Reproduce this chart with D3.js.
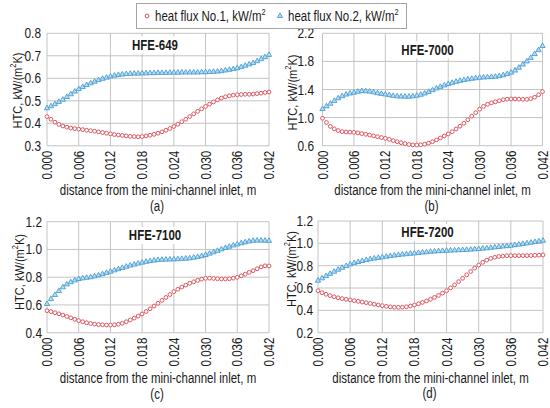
<!DOCTYPE html>
<html>
<head>
<meta charset="utf-8">
<script src="https://cdn.jsdelivr.net/npm/d3@7"></script>
<style>
  body { margin: 0; background: #fff; }
  svg { display: block; font-family: "Liberation Sans", Arial, sans-serif; }
</style>
</head>
<body>
<div id="chart"></div>
<script>
// distance from the mini-channel inlet, m
var distance = [0, 0.00075, 0.0015, 0.00225, 0.003, 0.00375, 0.0045, 0.00525, 0.006, 0.00675, 0.0075, 0.00825,
  0.009, 0.00975, 0.0105, 0.01125, 0.012, 0.01275, 0.0135, 0.01425, 0.015, 0.01575, 0.0165, 0.01725,
  0.018, 0.01875, 0.0195, 0.02025, 0.021, 0.02175, 0.0225, 0.02325, 0.024, 0.02475, 0.0255, 0.02625,
  0.027, 0.02775, 0.0285, 0.02925, 0.03, 0.03075, 0.0315, 0.03225, 0.033, 0.03375, 0.0345, 0.03525,
  0.036, 0.03675, 0.0375, 0.03825, 0.039, 0.03975, 0.0405, 0.04125, 0.042];

var xTicks = [0, 0.006, 0.012, 0.018, 0.024, 0.030, 0.036, 0.042];

// HTC, kW/(m2K)
var hfe649_q1 = [0.430, 0.418, 0.405, 0.395, 0.388, 0.383, 0.379, 0.376, 0.374, 0.372, 0.369, 0.367, 0.365,
  0.362, 0.359, 0.356, 0.353, 0.350, 0.348, 0.346, 0.344, 0.342, 0.341, 0.340, 0.341, 0.344, 0.347, 0.351,
  0.356, 0.362, 0.369, 0.377, 0.386, 0.396, 0.407, 0.418, 0.430, 0.442, 0.453, 0.464, 0.475, 0.485, 0.495,
  0.504, 0.512, 0.518, 0.522, 0.525, 0.527, 0.528, 0.529, 0.529, 0.530, 0.532, 0.534, 0.537, 0.539];
var hfe649_q2 = [0.467, 0.476, 0.485, 0.495, 0.505, 0.517, 0.529, 0.541, 0.552, 0.561, 0.570, 0.578, 0.585,
  0.592, 0.598, 0.603, 0.608, 0.612, 0.615, 0.617, 0.619, 0.620, 0.621, 0.621, 0.622, 0.622, 0.623, 0.623,
  0.624, 0.624, 0.624, 0.625, 0.625, 0.625, 0.626, 0.626, 0.626, 0.626, 0.626, 0.627, 0.627, 0.628, 0.629,
  0.630, 0.632, 0.635, 0.638, 0.641, 0.645, 0.650, 0.656, 0.662, 0.668, 0.676, 0.685, 0.694, 0.704];

var hfe7000_q1 = [0.99, 0.93, 0.875, 0.84, 0.815, 0.80, 0.795, 0.793, 0.79, 0.782, 0.772, 0.762, 0.752,
  0.74, 0.728, 0.716, 0.705, 0.69, 0.673, 0.657, 0.643, 0.63, 0.618, 0.612, 0.61, 0.613, 0.622, 0.637,
  0.657, 0.682, 0.71, 0.738, 0.767, 0.80, 0.838, 0.878, 0.92, 0.97, 1.02, 1.07, 1.12, 1.16, 1.19,
  1.21, 1.225, 1.24, 1.255, 1.262, 1.265, 1.265, 1.262, 1.26, 1.26, 1.27, 1.29, 1.325, 1.37];
var hfe7000_q2 = [1.122, 1.16, 1.198, 1.238, 1.275, 1.305, 1.328, 1.343, 1.355, 1.368, 1.378, 1.376, 1.370,
  1.36, 1.348, 1.338, 1.33, 1.32, 1.31, 1.303, 1.30, 1.298, 1.298, 1.303, 1.312, 1.325, 1.343, 1.366,
  1.39, 1.415, 1.438, 1.458, 1.478, 1.495, 1.51, 1.523, 1.535, 1.545, 1.553, 1.561, 1.568, 1.572, 1.575,
  1.578, 1.582, 1.59, 1.603, 1.62, 1.64, 1.67, 1.71, 1.755, 1.80, 1.85, 1.905, 1.96, 2.02];

var hfe7100_q1 = [0.559, 0.552, 0.544, 0.536, 0.527, 0.517, 0.507, 0.497, 0.487, 0.479, 0.472, 0.466, 0.462,
  0.459, 0.457, 0.455, 0.455, 0.457, 0.461, 0.468, 0.479, 0.492, 0.505, 0.52, 0.535, 0.553, 0.572, 0.592,
  0.612, 0.633, 0.654, 0.675, 0.696, 0.713, 0.729, 0.743, 0.756, 0.767, 0.777, 0.786, 0.792, 0.793, 0.791,
  0.789, 0.787, 0.787, 0.789, 0.793, 0.799, 0.81, 0.822, 0.835, 0.847, 0.861, 0.874, 0.882, 0.881];
var hfe7100_q2 = [0.607, 0.642, 0.672, 0.70, 0.727, 0.748, 0.764, 0.777, 0.787, 0.792, 0.796, 0.80, 0.806,
  0.814, 0.822, 0.831, 0.84, 0.849, 0.858, 0.867, 0.876, 0.884, 0.891, 0.898, 0.905, 0.911, 0.916, 0.92,
  0.924, 0.926, 0.927, 0.928, 0.929, 0.93, 0.932, 0.934, 0.936, 0.941, 0.946, 0.952, 0.96, 0.97, 0.98,
  0.99, 1.001, 1.011, 1.02, 1.029, 1.037, 1.045, 1.052, 1.058, 1.063, 1.064, 1.064, 1.063, 1.062];

var hfe7200_q1 = [0.576, 0.558, 0.544, 0.532, 0.522, 0.513, 0.505, 0.499, 0.493, 0.487, 0.481, 0.475, 0.469,
  0.462, 0.455, 0.448, 0.442, 0.436, 0.431, 0.428, 0.427, 0.428, 0.432, 0.439, 0.448, 0.459, 0.471, 0.484,
  0.499, 0.516, 0.534, 0.554, 0.576, 0.601, 0.628, 0.657, 0.687, 0.718, 0.748, 0.778, 0.806, 0.83, 0.85,
  0.865, 0.875, 0.882, 0.886, 0.889, 0.89, 0.89, 0.89, 0.89, 0.89, 0.891, 0.893, 0.894, 0.896];
var hfe7200_q2 = [0.666, 0.687, 0.707, 0.727, 0.746, 0.764, 0.781, 0.797, 0.812, 0.823, 0.833, 0.842, 0.851,
  0.858, 0.864, 0.87, 0.875, 0.881, 0.886, 0.891, 0.896, 0.9, 0.903, 0.907, 0.91, 0.914, 0.918, 0.921,
  0.925, 0.927, 0.93, 0.932, 0.934, 0.936, 0.937, 0.939, 0.94, 0.942, 0.944, 0.947, 0.949, 0.953, 0.956,
  0.96, 0.964, 0.968, 0.972, 0.975, 0.979, 0.984, 0.989, 0.995, 1.0, 1.006, 1.012, 1.018, 1.024];

var fluids = ["HFE-649", "HFE-7000", "HFE-7100", "HFE-7200"];
var panelLabels = ["(a)", "(b)", "(c)", "(d)"];
var legendLabels = ["heat flux No.1, kW/m", "heat flux No.2, kW/m"];

var width = 550, height = 408;
var red = "#dc5862", blue = "#4a9ed3", grid = "#c4c4c4";
var narrow = 0.82; // the original uses a condensed face

// panel boxes (plot area) and axis setup
var panels = [
  { name: fluids[0], label: panelLabels[0], q1: hfe649_q1, q2: hfe649_q2, x0: 47, x1: 269, y0: 33.3, y1: 145.8,
    yDomain: [0.3, 0.8], yTicks: [0.3, 0.4, 0.5, 0.6, 0.7, 0.8], tickRight: 41, titleX: 22, titleY: 90.5,
    nameX: 155, nameY: 49.5, xTitleY: 194.5, labelY: 211 },
  { name: fluids[1], label: panelLabels[1], q1: hfe7000_q1, q2: hfe7000_q2, x0: 322.5, x1: 542.5, y0: 33.3, y1: 145.7,
    yDomain: [0.6, 2.2], yTicks: [0.6, 1.0, 1.4, 1.8, 2.2], tickRight: 314, titleX: 296.5, titleY: 92.5,
    nameX: 427.5, nameY: 54.5, xTitleY: 194.5, labelY: 211 },
  { name: fluids[2], label: panelLabels[2], q1: hfe7100_q1, q2: hfe7100_q2, x0: 47, x1: 269, y0: 221.7, y1: 332.7,
    yDomain: [0.4, 1.2], yTicks: [0.4, 0.6, 0.8, 1.0, 1.2], tickRight: 42, titleX: 23.5, titleY: 272,
    nameX: 155, nameY: 240, xTitleY: 382.5, labelY: 399 },
  { name: fluids[3], label: panelLabels[3], q1: hfe7200_q1, q2: hfe7200_q2, x0: 318, x1: 543, y0: 221, y1: 332.7,
    yDomain: [0.2, 1.2], yTicks: [0.2, 0.4, 0.6, 0.8, 1.0, 1.2], tickRight: 313, titleX: 295.5, titleY: 269,
    nameX: 427.5, nameY: 237, xTitleY: 382.5, labelY: 398 }
];

var svg = d3.select("#chart").append("svg")
  .attr("width", width)
  .attr("height", height)
  .attr("viewBox", [0, 0, width, height]);

// text helper: condensed look via horizontal scale in the text's own frame
var addText = (g, x, y, rot, str, size, anchor, weight) => {
  return g.append("text")
    .attr("transform", `translate(${x},${y}) rotate(${rot}) scale(${narrow},1)`)
    .attr("font-size", size)
    .attr("font-weight", weight || "normal")
    .attr("text-anchor", anchor)
    .attr("fill", "#1a1a1a")
    .text(str);
};

var fmtX = d3.format(".3f"), fmtY = d3.format(".1f");
var triangle = d3.symbol().type(d3.symbolTriangle).size(12);

panels.forEach(p => {
  let x = d3.scaleLinear().domain([0, 0.042]).range([p.x0, p.x1]);
  let y = d3.scaleLinear().domain(p.yDomain).range([p.y1, p.y0]);
  let g = svg.append("g");

  // grid
  g.append("g").selectAll("line.v")
    .data(xTicks)
    .join("line")
    .attr("x1", d => x(d)).attr("x2", d => x(d))
    .attr("y1", p.y0).attr("y2", p.y1)
    .attr("stroke", grid).attr("stroke-width", 1);
  g.append("g").selectAll("line.h")
    .data(p.yTicks)
    .join("line")
    .attr("x1", p.x0).attr("x2", p.x1)
    .attr("y1", d => y(d)).attr("y2", d => y(d))
    .attr("stroke", grid).attr("stroke-width", 1);

  // y tick labels
  p.yTicks.forEach(t => {
    addText(g, p.tickRight, y(t) + 5, 0, fmtY(t), 14.5, "end");
  });
  // x tick labels, rotated
  xTicks.forEach(t => {
    addText(g, x(t) + 5, p.y1 + 5, -90, fmtX(t), 14, "end");
  });

  // y axis title with superscript
  let yt = g.append("text")
    .attr("transform", `translate(${p.titleX},${p.titleY}) rotate(-90) scale(${narrow},1)`)
    .attr("font-size", 13.5)
    .attr("text-anchor", "middle")
    .attr("fill", "#1a1a1a");
  yt.append("tspan").text("HTC, kW/(m");
  yt.append("tspan").attr("font-size", 9).attr("dy", -6).text("2");
  yt.append("tspan").attr("dy", 6).text("K)");

  addText(g, (p.x0 + p.x1) / 2, p.xTitleY, 0, "distance from the mini-channel inlet, m", 14, "middle");
  addText(g, (p.x0 + p.x1) / 2 - 1, p.labelY, 0, p.label, 14, "middle");

  // series 1: red hollow circles
  g.append("g").selectAll("circle")
    .data(distance)
    .join("circle")
    .attr("cx", d => x(d))
    .attr("cy", (d, i) => y(p.q1[i]))
    .attr("r", 1.9)
    .attr("fill", "#fff")
    .attr("stroke", red)
    .attr("stroke-width", 1);

  // series 2: blue triangles
  g.append("g").selectAll("path")
    .data(distance)
    .join("path")
    .attr("transform", (d, i) => `translate(${x(d)},${y(p.q2[i])})`)
    .attr("d", triangle)
    .attr("fill", "#b6dbf1")
    .attr("stroke", blue)
    .attr("stroke-width", 0.9);

  // fluid name with white box behind it
  let nm = addText(g, p.nameX, p.nameY, 0, p.name, 14, "middle", "bold");
  let bb = nm.node().getBBox();
  g.insert("rect", () => nm.node())
    .attr("x", p.nameX - bb.width * narrow / 2 - 3)
    .attr("y", p.nameY - 13)
    .attr("width", bb.width * narrow + 6)
    .attr("height", 17)
    .attr("fill", "#fff");
});

// legend
var lg = svg.append("g");
lg.append("rect")
  .attr("x", 136.5).attr("y", 3.5)
  .attr("width", 270).attr("height", 25)
  .attr("fill", "#fff")
  .attr("stroke", "#a5a5a5");
lg.append("circle")
  .attr("cx", 147).attr("cy", 16).attr("r", 1.9)
  .attr("fill", "#fff").attr("stroke", red).attr("stroke-width", 1);
lg.append("path")
  .attr("transform", "translate(280,16)")
  .attr("d", triangle)
  .attr("fill", "#b6dbf1").attr("stroke", blue).attr("stroke-width", 0.9);
[[155, legendLabels[0]], [288, legendLabels[1]]].forEach(([lx, s]) => {
  let t = lg.append("text")
    .attr("transform", `translate(${lx},21) scale(${narrow},1)`)
    .attr("font-size", 14)
    .attr("fill", "#1a1a1a");
  t.append("tspan").text(s);
  t.append("tspan").attr("font-size", 9).attr("dy", -6).text("2");
});
</script>
</body>
</html>
